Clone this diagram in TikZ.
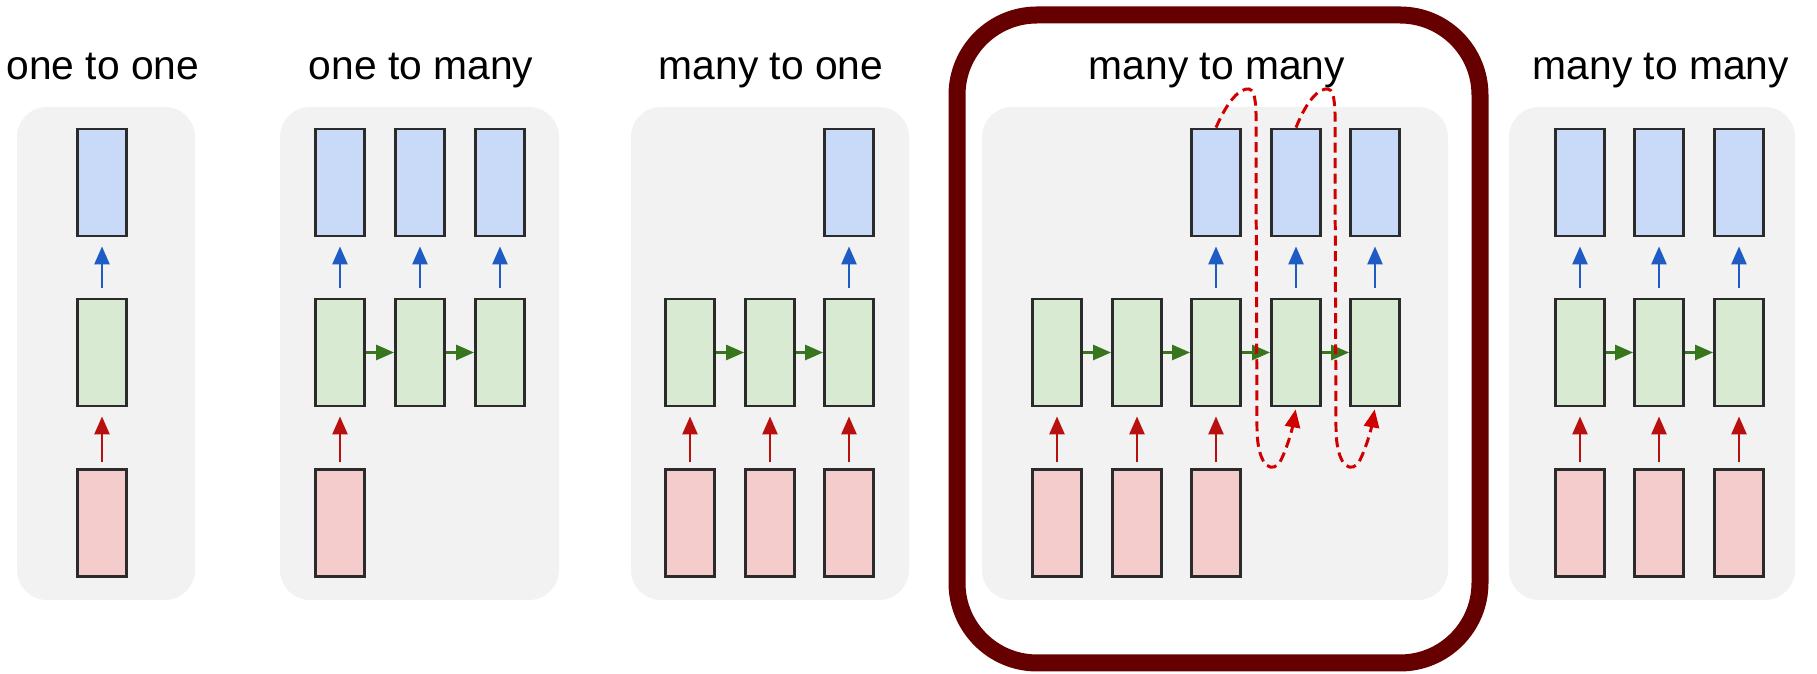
\documentclass[tikz,border=0pt]{standalone}
\usepackage{fontspec}
\setmainfont{Liberation Sans}
\usetikzlibrary{arrows.meta}

\definecolor{outfill}{HTML}{C9DAF8}
\definecolor{hidfill}{HTML}{D9EAD3}
\definecolor{infill}{HTML}{F4CCCC}
\definecolor{boxline}{HTML}{2B2B2B}
\definecolor{panelgray}{HTML}{F2F2F2}
\definecolor{outarrow}{HTML}{1F5BC4}
\definecolor{inarrow}{HTML}{B80F0F}
\definecolor{recarrow}{HTML}{38761D}
\definecolor{dashred}{HTML}{D00000}
\definecolor{framered}{HTML}{660000}

\begin{document}
\begin{tikzpicture}[x=0.01cm, y=0.01cm]
      \tikzstyle{every node}+=[inner sep=0pt]
      \tikzstyle{cell}=[draw=boxline, line width=0.8pt, minimum width=0.49cm, minimum height=1.07cm]
      \tikzstyle{outcell}=[cell, fill=outfill]
      \tikzstyle{hidcell}=[cell, fill=hidfill]
      \tikzstyle{incell}=[cell, fill=infill]
      \tikzstyle{title}=[anchor=base, font=\fontsize{11.6}{13.9}\selectfont]
      \tikzstyle{toout}=[draw=outarrow, line width=0.75pt, -{Triangle[length=0.18cm,width=0.15cm]}, shorten <=0.1cm, shorten >=0.09cm]
      \tikzstyle{fromin}=[draw=inarrow, line width=0.75pt, -{Triangle[length=0.18cm,width=0.15cm]}, shorten <=0.06cm, shorten >=0.09cm]
      \tikzstyle{recur}=[draw=recarrow, line width=0.75pt, -{Triangle[length=0.18cm,width=0.15cm]}]
      \tikzstyle{feedback}=[draw=dashred, line width=0.85pt, dash pattern=on 0.1cm off 0.055cm, -{Triangle[length=0.18cm,width=0.15cm]}, shorten >=0.02cm]
      \useasboundingbox (0,0) rectangle (1817,-674);
      % grey panels
      \fill [panelgray, rounded corners=0.3cm] (17,-107) rectangle (195,-600);
      \fill [panelgray, rounded corners=0.3cm] (280,-107) rectangle (559,-600);
      \fill [panelgray, rounded corners=0.3cm] (631,-107) rectangle (909,-600);
      \fill [panelgray, rounded corners=0.3cm] (982,-107) rectangle (1448,-600);
      \fill [panelgray, rounded corners=0.3cm] (1509,-107) rectangle (1795,-600);
      % highlight
      \draw [framered, line width=0.17cm, rounded corners=0.8cm] (957,-15) rectangle (1480,-663);
      % titles
      \node [title] (tA) at (103,-80) {one to one};
      \node [title] (tB) at (421,-80) {one to many};
      \node [title] (tC) at (771,-80) {many to one};
      \node [title] (tD) at (1217,-80) {many to many};
      \node [title] (tE) at (1661,-80) {many to many};
      % one to one
      \node [incell] (xA1) at (102,-523) {};
      \node [hidcell] (hA1) at (102,-352.5) {};
      \node [outcell] (yA1) at (102,-182.5) {};
      \draw [fromin] (xA1) -- (hA1);
      \draw [toout] (hA1) -- (yA1);
      % one to many
      \node [incell] (xB1) at (340,-523) {};
      \node [hidcell] (hB1) at (340,-352.5) {};
      \node [hidcell] (hB2) at (420,-352.5) {};
      \node [hidcell] (hB3) at (500,-352.5) {};
      \node [outcell] (yB1) at (340,-182.5) {};
      \node [outcell] (yB2) at (420,-182.5) {};
      \node [outcell] (yB3) at (500,-182.5) {};
      \draw [fromin] (xB1) -- (hB1);
      \draw [recur] (hB1) -- (hB2);
      \draw [recur] (hB2) -- (hB3);
      \draw [toout] (hB1) -- (yB1);
      \draw [toout] (hB2) -- (yB2);
      \draw [toout] (hB3) -- (yB3);
      % many to one
      \node [incell] (xC1) at (690,-523) {};
      \node [incell] (xC2) at (770,-523) {};
      \node [incell] (xC3) at (849,-523) {};
      \node [hidcell] (hC1) at (690,-352.5) {};
      \node [hidcell] (hC2) at (770,-352.5) {};
      \node [hidcell] (hC3) at (849,-352.5) {};
      \node [outcell] (yC3) at (849,-182.5) {};
      \draw [fromin] (xC1) -- (hC1);
      \draw [fromin] (xC2) -- (hC2);
      \draw [fromin] (xC3) -- (hC3);
      \draw [recur] (hC1) -- (hC2);
      \draw [recur] (hC2) -- (hC3);
      \draw [toout] (hC3) -- (yC3);
      % many to many, delayed
      \node [incell] (xD1) at (1057,-523) {};
      \node [incell] (xD2) at (1137,-523) {};
      \node [incell] (xD3) at (1216,-523) {};
      \node [hidcell] (hD1) at (1057,-352.5) {};
      \node [hidcell] (hD2) at (1137,-352.5) {};
      \node [hidcell] (hD3) at (1216,-352.5) {};
      \node [hidcell] (hD4) at (1296,-352.5) {};
      \node [hidcell] (hD5) at (1375,-352.5) {};
      \node [outcell] (yD3) at (1216,-182.5) {};
      \node [outcell] (yD4) at (1296,-182.5) {};
      \node [outcell] (yD5) at (1375,-182.5) {};
      \draw [fromin] (xD1) -- (hD1);
      \draw [fromin] (xD2) -- (hD2);
      \draw [fromin] (xD3) -- (hD3);
      \draw [recur] (hD1) -- (hD2);
      \draw [recur] (hD2) -- (hD3);
      \draw [recur] (hD3) -- (hD4);
      \draw [recur] (hD4) -- (hD5);
      \draw [toout] (hD3) -- (yD3);
      \draw [toout] (hD4) -- (yD4);
      \draw [toout] (hD5) -- (yD5);
      \draw [feedback] (yD3.north) .. controls (1228,-100) and (1240,-88) .. (1249,-89)
            .. controls (1258,-90) and (1256,-120) .. (1256,-160) -- (1257,-430)
            .. controls (1258,-470) and (1274,-474) .. (1281,-460)
            .. controls (1287,-448) and (1292,-430) .. (hD4.south);
      \draw [feedback] (yD4.north) .. controls (1307,-100) and (1319,-88) .. (1328,-89)
            .. controls (1337,-90) and (1335,-120) .. (1335,-160) -- (1336,-430)
            .. controls (1337,-470) and (1353,-474) .. (1360,-460)
            .. controls (1366,-448) and (1371,-430) .. (hD5.south);
      % many to many, synced
      \node [incell] (xE1) at (1580,-523) {};
      \node [incell] (xE2) at (1659,-523) {};
      \node [incell] (xE3) at (1739,-523) {};
      \node [hidcell] (hE1) at (1580,-352.5) {};
      \node [hidcell] (hE2) at (1659,-352.5) {};
      \node [hidcell] (hE3) at (1739,-352.5) {};
      \node [outcell] (yE1) at (1580,-182.5) {};
      \node [outcell] (yE2) at (1659,-182.5) {};
      \node [outcell] (yE3) at (1739,-182.5) {};
      \draw [fromin] (xE1) -- (hE1);
      \draw [fromin] (xE2) -- (hE2);
      \draw [fromin] (xE3) -- (hE3);
      \draw [recur] (hE1) -- (hE2);
      \draw [recur] (hE2) -- (hE3);
      \draw [toout] (hE1) -- (yE1);
      \draw [toout] (hE2) -- (yE2);
      \draw [toout] (hE3) -- (yE3);
\end{tikzpicture}
\end{document}
